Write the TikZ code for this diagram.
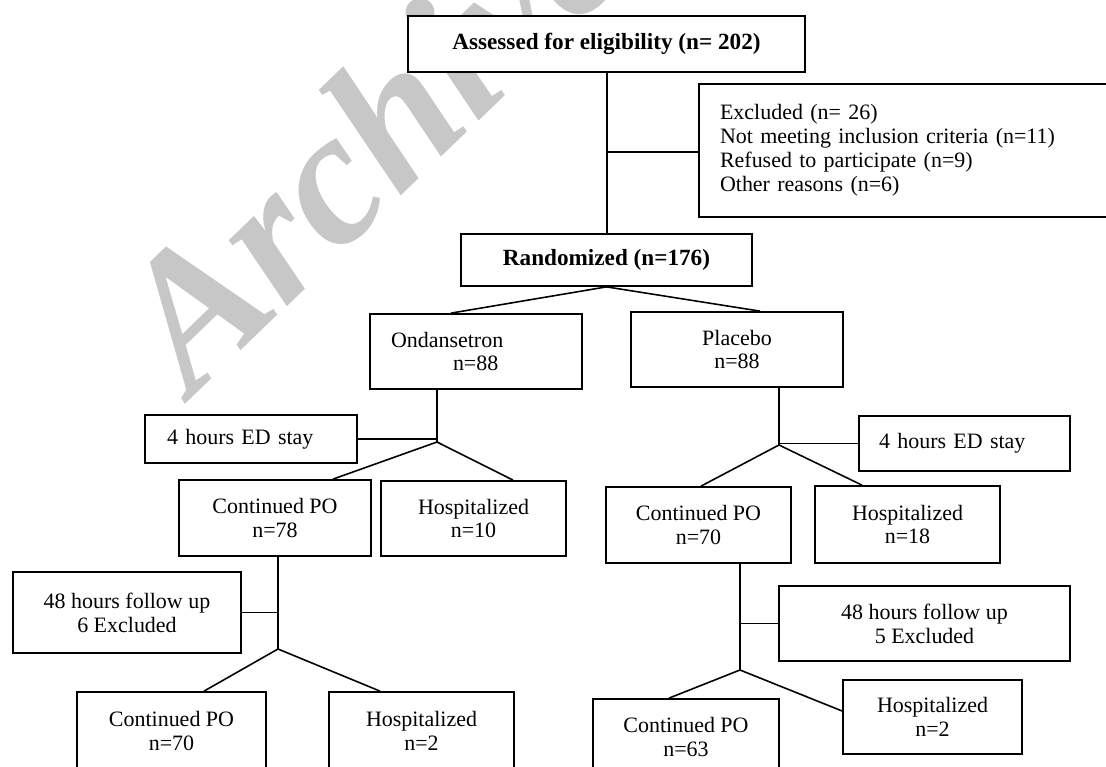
\documentclass[tikz,border=0pt]{standalone}
\usepackage{fontspec}
\setmainfont{Liberation Serif}
\newcommand\pxu{0.02cm}
\newcommand\fcfont{\fontsize{12.5}{13.6}\selectfont}
\newcommand\fcbold{\fontsize{13.2}{14}\selectfont\bfseries}
\tikzstyle{fcbox}=[draw,fill=white,line width=1pt,inner sep=0pt,align=center,font=\fcfont]
\tikzstyle{fcleft}=[fcbox,align=left]
\tikzstyle{fcline}=[line width=0.9pt]
\tikzstyle{wmark}=[text=black!22,inner sep=0pt,
  font=\fontsize{109}{109}\selectfont\bfseries\itshape]
\def\fcnode(#1) at (#2,#3) size (#4,#5){% centre and size given in px
  \node[fcbox,minimum width=#4*\pxu,minimum height=#5*\pxu] (#1) at (#2,#3)}

\begin{document}
\begin{tikzpicture}[x=0.02cm,y=-0.02cm]
  \useasboundingbox (0,0) rectangle (1106,767);
  \clip (0,0) rectangle (1106,767);
  \node[wmark,rotate=44,anchor=base west] (wm) at (192,398) {Archive of SID};

  \fcnode(assess) at (606.5,44) size (397,56) {\fcbold Assessed for eligibility (n= 202)};
  \fcnode(excl) at (907,150.5) size (416,133) [fcleft,text width=7.48cm,inner xsep=0.42cm]
    {Excluded (n= 26)\\Not meeting inclusion criteria (n=11)\\Refused to participate (n=9)\\Other reasons (n=6)};
  \fcnode(rand) at (606.5,260) size (291,52) {\fcbold Randomized (n=176)};

  \fcnode(ond) at (476,351.5) size (212,75) [fcleft,text width=3.4cm,inner xsep=0.42cm]
    {Ondansetron\\\hspace*{1.24cm}n=88};
  \fcnode(plac) at (737,349.5) size (212,75) {Placebo\\n=88};

  \fcnode(edL) at (251,439) size (212,48) [fcleft,text width=3.36cm,inner xsep=0.44cm] {4 hours ED stay};
  \fcnode(edR) at (964.5,443.5) size (211,55) [fcleft,text width=3.42cm,inner xsep=0.4cm] {4 hours ED stay};

  \fcnode(cpoL) at (275,518) size (192,76) {Continued PO\\n=78};
  \fcnode(hosL) at (473.5,518.5) size (185,75) {Hospitalized\\n=10};
  \fcnode(cpoR) at (698.5,525) size (185,76) {Continued PO\\n=70};
  \fcnode(hosR) at (907.5,524.5) size (185,77) {Hospitalized\\n=18};

  \fcnode(fuL) at (127,612.5) size (228,81) {48 hours follow up\\6 Excluded};
  \fcnode(fuR) at (924.5,623.5) size (291,75) {48 hours follow up\\5 Excluded};

  \fcnode(cpoLL) at (171.5,731) size (189,78) {Continued PO\\n=70};
  \fcnode(hosLL) at (421.5,731) size (185,78) {Hospitalized\\n=2};
  \fcnode(cpoRR) at (686,737) size (186,76) {Continued PO\\n=63};
  \fcnode(hosRR) at (932.5,717) size (179,74) {Hospitalized\\n=2};

  % junctions
  \coordinate (jassess) at (607,152);
  \coordinate (jond) at (437,442);
  \coordinate (jplac) at (779,445);
  \coordinate (jcpoL) at (278,649);
  \coordinate (jcpoR) at (740,670);

  \draw[fcline] (assess.south -| jassess) -- (rand.north -| jassess);
  \draw[fcline] (jassess) -- (excl.west |- jassess);
  \draw[fcline] ([xshift=-0.5cm]ond.north) -- (rand.south) -- ([xshift=0.46cm]plac.north);

  \draw[fcline] (ond.south -| jond) -- (jond);
  \draw[fcline] (edL.east) -- (edL.east -| jond);
  \draw[fcline] ([xshift=1.16cm]cpoL.north) -- (jond) -- ([xshift=0.79cm]hosL.north);

  \draw[fcline] (plac.south -| jplac) -- (jplac);
  \draw[fcline] (edR.west) -- (edR.west -| jplac);
  \draw[fcline] ([xshift=0.05cm]cpoR.north) -- (jplac) -- ([xshift=-0.91cm]hosR.north);

  \draw[fcline] (cpoL.south -| jcpoL) -- (jcpoL);
  \draw[fcline] (fuL.east) -- (fuL.east -| jcpoL);
  \draw[fcline] ([xshift=0.65cm]cpoLL.north) -- (jcpoL) -- ([xshift=-0.83cm]hosLL.north);

  \draw[fcline] (cpoR.south -| jcpoR) -- (jcpoR);
  \draw[fcline] (fuR.west) -- (fuR.west -| jcpoR);
  \draw[fcline] ([xshift=-0.34cm]cpoRR.north) -- (jcpoR) -- ([yshift=0.12cm]hosRR.west);
\end{tikzpicture}
\end{document}
